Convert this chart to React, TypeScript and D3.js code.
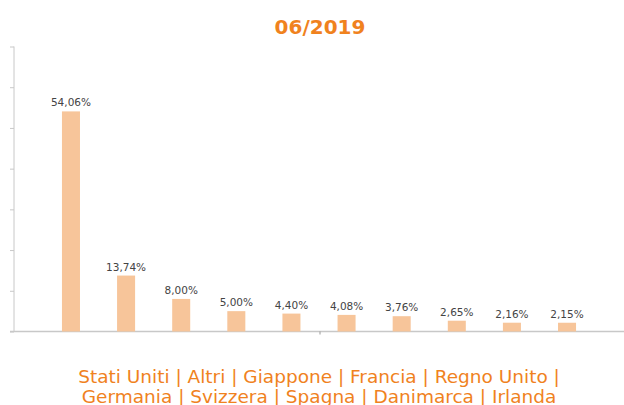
import React, { useEffect, useRef } from "react";
import * as d3 from "d3";

const title = "06/2019";
const categories = ["Stati Uniti", "Altri", "Giappone", "Francia", "Regno Unito", "Germania", "Svizzera", "Spagna", "Danimarca", "Irlanda"];
const values = [54.06, 13.74, 8.0, 5.0, 4.4, 4.08, 3.76, 2.65, 2.16, 2.15];
const yTicks = [0, 10, 20, 30, 40, 50, 60, 70];

const W = 624;
const H = 405;
const ORANGE = "#f0821e";
const BAR = "#f7c59a";
const AXIS = "#c8c8c8";
const FONT = "'DejaVu Sans', Verdana, sans-serif";

export default function App() {
  const ref = useRef<SVGSVGElement | null>(null);

  useEffect(() => {
    const svg = d3.select(ref.current);
    svg.selectAll("*").remove();

    const left = 14, right = 624, top = 46.5, bottom = 331.5;
    const x = d3.scaleBand<string>().domain(categories).range([left, right]).paddingInner(0.673).paddingOuter(0.87);
    const y = d3.scaleLinear().domain([0, 70]).range([bottom, top]);

    const locale = d3.formatLocale({ decimal: ",", thousands: ".", grouping: [3], currency: ["", "€"] });
    const fmt = locale.format(".2f");

    svg.append("text")
      .attr("x", 320).attr("y", 34)
      .attr("text-anchor", "middle")
      .attr("font-family", FONT)
      .attr("font-weight", "bold")
      .attr("font-size", 20)
      .attr("fill", ORANGE)
      .text(title);

    const yAxis = svg.append("g").attr("transform", `translate(${left},0)`)
      .call(d3.axisLeft(y).tickValues(yTicks).tickSize(4).tickFormat(() => ""));
    yAxis.selectAll("line").attr("stroke", AXIS);
    yAxis.select(".domain").attr("stroke", AXIS).attr("d", `M0,${top}V${bottom}`);

    const xb = svg.append("g");
    xb.append("line").attr("x1", left - 4).attr("x2", right).attr("y1", bottom).attr("y2", bottom).attr("stroke", AXIS).attr("stroke-width", 1.5);
    xb.append("line").attr("x1", 320).attr("x2", 320).attr("y1", bottom).attr("y2", bottom + 3).attr("stroke", "#999");

    svg.append("g").selectAll("rect").data(values).join("rect")
      .attr("x", (_, i) => x(categories[i])!)
      .attr("width", x.bandwidth())
      .attr("y", d => y(d))
      .attr("height", d => bottom - y(d))
      .attr("fill", BAR);

    svg.append("g").selectAll("text").data(values).join("text")
      .attr("x", (_, i) => x(categories[i])! + x.bandwidth() / 2)
      .attr("y", d => y(d) - 5)
      .attr("text-anchor", "middle")
      .attr("font-family", FONT)
      .attr("font-size", 10.5)
      .attr("fill", "#444")
      .text(d => fmt(d) + "%");

    const line1 = categories.slice(0, 5).join(" | ") + " |";
    const line2 = categories.slice(5).join(" | ");
    [line1, line2].forEach((t, i) => {
      svg.append("text")
        .attr("x", 319).attr("y", 382.5 + i * 20.5)
        .attr("text-anchor", "middle")
        .attr("font-family", FONT)
        .attr("font-size", 18.5)
        .attr("fill", ORANGE)
        .text(t);
    });
  }, []);

  return (
    <svg ref={ref} width={W} height={H} style={{ position: "absolute", left: 0, top: 0, background: "#fff" }} />
  );
}
